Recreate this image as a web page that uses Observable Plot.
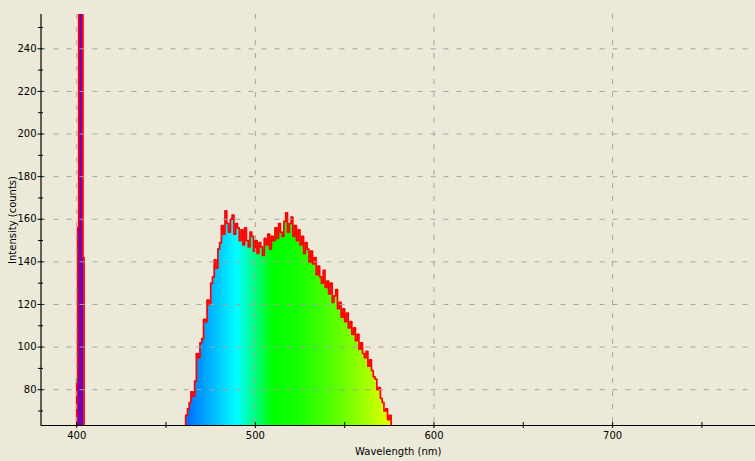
<!DOCTYPE html>
<html><head><meta charset="utf-8">
<script src="https://cdn.jsdelivr.net/npm/d3@7"></script>
<script src="https://cdn.jsdelivr.net/npm/@observablehq/plot@0.6"></script>
<style>
html,body{margin:0;padding:0;background:#ECE9D8;}
#chart svg{display:block;}
</style></head><body><div id="chart"></div>
<script>
const wavelengths = [
  399.5, 400.0, 400.5, 401.1, 403.5, 404.1,
  461, 462, 463, 464, 465, 466, 467, 468, 469, 470,
  471, 472, 473, 474, 475, 476, 477, 478, 479, 480,
  481, 482, 483, 484, 485, 486, 487, 488, 489, 490,
  491, 492, 493, 494, 495, 496, 497, 498, 499, 500,
  501, 502, 503, 504, 505, 506, 507, 508, 509, 510,
  511, 512, 513, 514, 515, 516, 517, 518, 519, 520,
  521, 522, 523, 524, 525, 526, 527, 528, 529, 530,
  531, 532, 533, 534, 535, 536, 537, 538, 539, 540,
  541, 542, 543, 544, 545, 546, 547, 548, 549, 550,
  551, 552, 553, 554, 555, 556, 557, 558, 559, 560,
  561, 562, 563, 564, 565, 566, 567, 568, 569, 570,
  571, 572, 573, 574, 575, 576
];
const counts = [
  40, 85, 156, 300, 142, 40,
  68, 71, 74, 79, 77, 84, 97, 95, 102, 104,
  113, 112, 122, 120, 130, 133, 141, 137, 146, 149,
  157, 153, 164, 158, 154, 160, 162, 153, 158, 156,
  150, 155, 148, 156, 150, 147, 154, 152, 145, 150,
  144, 149, 147, 143, 151, 148, 153, 146, 152, 150,
  156, 151, 158, 154, 152, 159, 163, 154, 158, 161,
  152, 157, 150, 155, 148, 152, 144, 149, 146, 140,
  145, 139, 142, 134, 138, 133, 130, 136, 128, 131,
  125, 130, 121, 124, 127, 118, 121, 114, 118, 112,
  116, 109, 112, 106, 109, 103, 106, 99, 102, 97,
  95, 98, 91, 94, 89, 86, 85, 80, 81, 76,
  74, 70, 71, 66, 68, 40
];
const xDomain = [380, 780];
const yDomain = [63.2, 256.1];
const xMajorTicks = [400, 500, 600, 700];
const xMinorTicks = [450, 550, 650, 750];
const yMajorTicks = [80, 100, 120, 140, 160, 180, 200, 220, 240];
const yMinorTicks = [70, 90, 110, 130, 150, 170, 190, 210, 230, 250];
const xLabel = "Wavelength (nm)";
const yLabel = "Intensity (counts)";

const data = wavelengths.map((w, i) => ({w, c: counts[i]}));

// visible-spectrum colour for a wavelength (style only)
function wlColor(w) {
  let r, g, b;
  if (w < 440) { r = -(w - 440) / 60; g = 0; b = 1; }
  else if (w < 490) { r = 0; g = (w - 440) / 50; b = 1; }
  else if (w < 510) { r = 0; g = 1; b = -(w - 510) / 20; }
  else if (w < 580) { r = Math.pow((w - 510) / 70, 1.5); g = 1; b = 0; }
  else if (w < 645) { r = 1; g = -(w - 645) / 65; b = 0; }
  else { r = 1; g = 0; b = 0; }
  let f = 1;
  if (w < 420) f = 0.35 + 0.65 * (w - 380) / 40;
  else if (w > 700) f = 0.3 + 0.7 * (780 - w) / 80;
  return d3.rgb(r * f * 255, g * f * 255, b * f * 255).formatHex();
}

const grid = {stroke: "#a4a4a4", strokeDasharray: "5,8", strokeWidth: 1};
const blank = () => "";

const plot = Plot.plot({
  width: 755,
  height: 461,
  marginLeft: 40.5,
  marginRight: 0,
  marginTop: 14,
  marginBottom: 36,
  style: {background: "#ECE9D8", fontFamily: "DejaVu Sans", fontSize: "10px", color: "black"},
  x: {domain: xDomain},
  y: {domain: yDomain},
  marks: [
    Plot.areaY(data, {x: "w", y: "c", curve: "step-after", fill: "url(#spec)", clip: true}),
    Plot.line(data, {x: "w", y: "c", curve: "step-after", stroke: "#ff0000", strokeWidth: 1.7, clip: true}),
    Plot.ruleX(xMajorTicks, grid),
    Plot.ruleY(yMajorTicks, grid),
    Plot.ruleX([xDomain[0]], {stroke: "black", strokeWidth: 1.2}),
    Plot.ruleY([yDomain[0]], {stroke: "black", strokeWidth: 1.2}),
    Plot.axisY(yMajorTicks, {tickSize: 6, dx: 3, tickPadding: 1.5, label: null, stroke: "black", fill: "black"}),
    Plot.axisY(yMinorTicks, {tickSize: 5, dx: 2.5, tickFormat: blank, label: null, stroke: "black"}),
    Plot.axisX(xMajorTicks, {tickSize: 6, dy: -3, tickPadding: 3, label: null, stroke: "black", fill: "black"}),
    Plot.axisX(xMinorTicks, {tickSize: 6, dy: -3, tickFormat: blank, label: null, stroke: "black"}),
    Plot.text([xLabel], {frameAnchor: "bottom", textAnchor: "middle", lineAnchor: "middle", dy: 26, text: d => d, fill: "black"}),
    Plot.text([yLabel], {frameAnchor: "left", textAnchor: "middle", lineAnchor: "middle", rotate: -90, dx: -28, text: d => d, fill: "black"})
  ]
});

// gradient of spectral colours along the x scale
const xs = plot.scale("x");
const ns = "http://www.w3.org/2000/svg";
const defs = document.createElementNS(ns, "defs");
const lg = document.createElementNS(ns, "linearGradient");
lg.setAttribute("id", "spec");
lg.setAttribute("gradientUnits", "userSpaceOnUse");
lg.setAttribute("x1", xs.apply(xDomain[0]));
lg.setAttribute("x2", xs.apply(xDomain[1]));
lg.setAttribute("y1", 0);
lg.setAttribute("y2", 0);
for (let w = xDomain[0]; w <= xDomain[1]; w += 2) {
  const s = document.createElementNS(ns, "stop");
  s.setAttribute("offset", (w - xDomain[0]) / (xDomain[1] - xDomain[0]));
  s.setAttribute("stop-color", wlColor(w));
  lg.appendChild(s);
}
defs.appendChild(lg);
plot.insertBefore(defs, plot.firstChild);

document.getElementById("chart").appendChild(plot);
</script>
</body></html>
